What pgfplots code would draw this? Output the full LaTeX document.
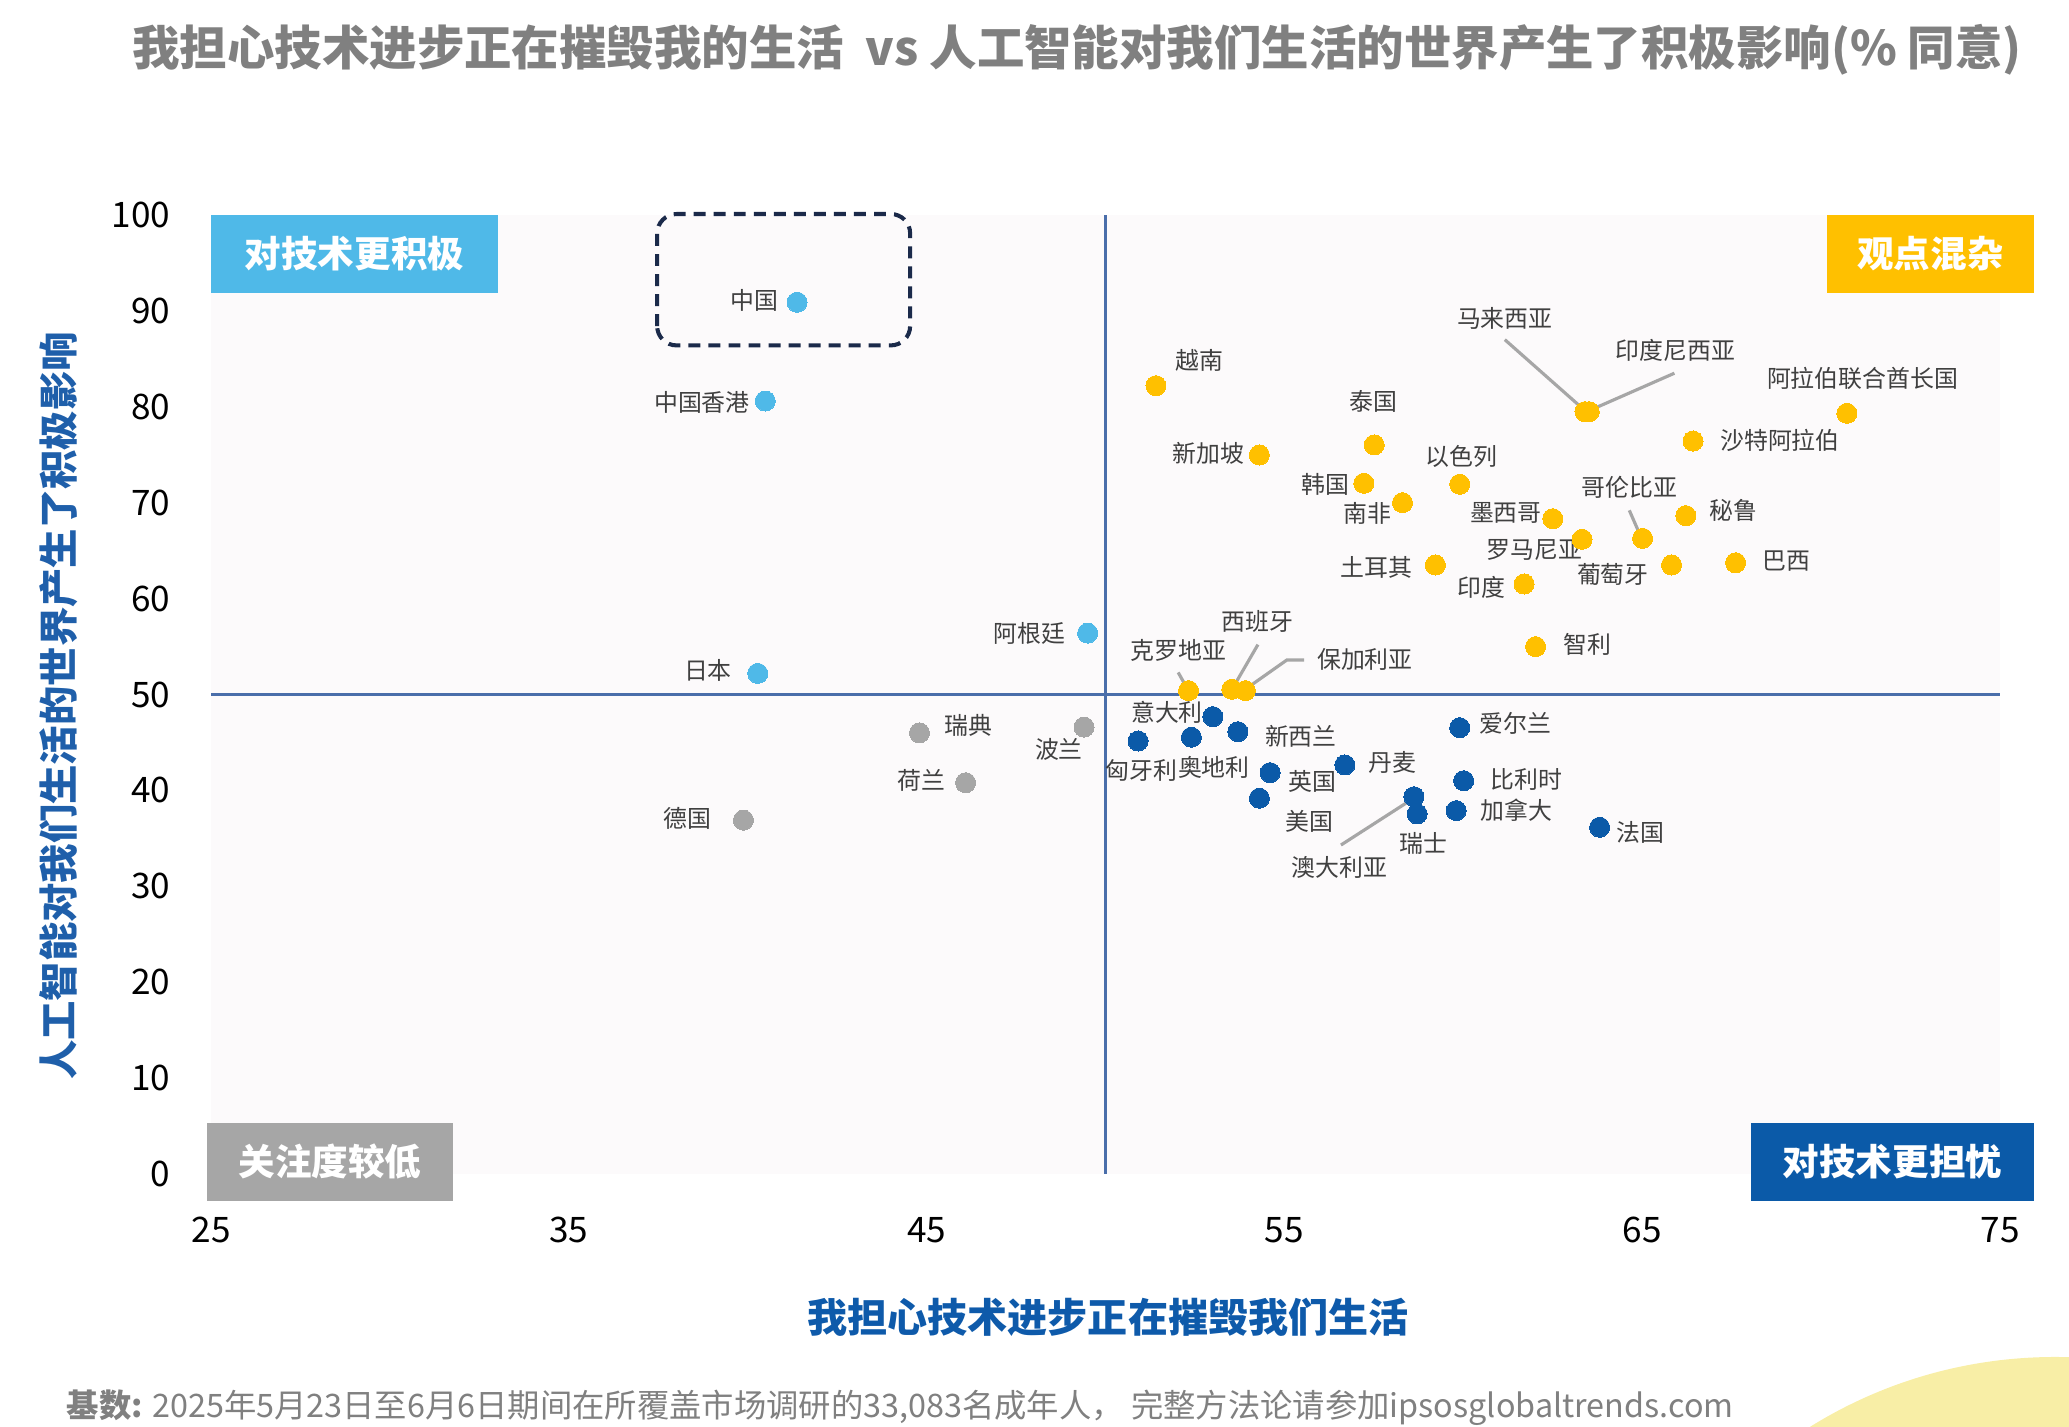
\documentclass[border=0pt]{standalone}
\usepackage{fontspec}
\setmainfont{Noto Sans CJK SC}
\usepackage{pgfplots}
\pgfplotsset{compat=1.18}
\definecolor{lblue}{HTML}{4FB9E8}
\definecolor{dblue}{HTML}{0B5AA8}
\definecolor{yel}{HTML}{FFC000}
\definecolor{gry}{HTML}{A6A6A6}
\definecolor{bgc}{HTML}{FCFAFB}
\definecolor{midc}{HTML}{4A6EAA}
\definecolor{navy}{HTML}{1B2A4A}
\definecolor{txt}{HTML}{404040}
\definecolor{ttl}{HTML}{808080}
\definecolor{circ}{HTML}{F8EEA6}
\definecolor{leader}{HTML}{A6A6A6}
\definecolor{xlab}{HTML}{0E5AAA}
\definecolor{ylab}{HTML}{1F5FAA}
\tikzset{lbl/.style={font=\fontsize{6.8pt}{8pt}\selectfont, text=txt, inner sep=0pt, anchor=center},
  ld/.style={draw=leader, line width=0.9pt},
  qbox/.style={font=\fontsize{10.4pt}{12pt}\selectfont\bfseries, text=white}}
\pgfplotsset{dots/.style={color=#1, only marks, mark=*, mark size=2.85pt, mark options={solid, draw=#1, fill=#1, line width=0pt}}}
\begin{document}
\begin{tikzpicture}[x=1mm,y=1mm]
\useasboundingbox (0,0) rectangle (206.9,142.7);
\begin{scope}
\clip (0,0) rectangle (206.9,142.7);
\fill[circ] (205.5,-39.4) circle (46.4);
\end{scope}
\begin{axis}[at={(21.1mm,25.3mm)}, anchor=south west, scale only axis,
  width=178.9mm, height=95.9mm,
  xmin=25, xmax=75, ymin=0, ymax=100,
  xtick={25,35,45,55,65,75}, ytick={0,10,...,100},
  axis line style={draw=none}, major tick length=0pt,
  tick label style={font=\fontsize{10pt}{12pt}\selectfont, text=black},
  /pgf/number format/assume math mode=true,
  xticklabel style={anchor=center, inner sep=0pt, yshift=-5.6mm},
  yticklabel style={anchor=east, inner sep=0pt, xshift=-4mm},
  axis background/.style={fill=bgc},
  clip=false]
\addplot[midc, line width=0.7pt] coordinates {(50,0) (50,100)};
\addplot[midc, line width=0.7pt] coordinates {(25,50) (75,50)};
% light blue
\addplot[dots=lblue] coordinates {
(41.38,90.9) (40.49,80.6) (40.28,52.2) (49.50,56.4)};
% gray
\addplot[dots=gry] coordinates {
(44.80,46.0) (49.40,46.6) (46.09,40.8) (39.88,36.9)};
% yellow
\addplot[dots=yel] coordinates {
(51.41,82.2) (54.30,74.97) (57.51,76.02) (57.22,72.02) (59.90,71.92) (58.30,70.0)
(63.40,79.49) (63.52,79.49) (70.72,79.32) (66.42,76.43) (62.50,68.33) (66.22,68.65)
(63.32,66.18) (65.01,66.28) (65.82,63.50) (67.61,63.74) (59.22,63.50) (61.70,61.52)
(62.02,54.99) (52.32,50.40) (53.53,50.54) (53.91,50.40)};
% dark blue
\addplot[dots=dblue] coordinates {
(53.00,47.69) (50.91,45.15) (52.40,45.54) (53.70,46.12) (54.60,41.85) (54.30,39.18)
(56.69,42.65) (59.90,46.54) (60.01,41.01) (58.62,39.34) (58.71,37.54) (59.80,37.89)
(63.81,36.15)};
% dashed box
\draw[navy, line width=1.15pt, dash pattern=on 3.4pt off 2.3pt, rounded corners=5.5pt]
  (axis cs:37.47,86.4) rectangle (axis cs:44.54,100.1);
% leaders
\draw[ld] (axis cs:61.16,87.0) -- (axis cs:63.40,79.6);
\draw[ld] (axis cs:65.90,83.5) -- (axis cs:63.52,79.6);
\draw[ld] (axis cs:64.64,69.2) -- (axis cs:64.98,66.3);
\draw[ld] (axis cs:52.03,52.3) -- (axis cs:52.32,50.4);
\draw[ld] (axis cs:54.26,55.2) -- (axis cs:53.53,50.5);
\draw[ld] (axis cs:55.55,53.6) -- (axis cs:55.07,53.6) -- (axis cs:53.93,50.6);
\draw[ld] (axis cs:56.58,34.3) -- (axis cs:58.62,39.2);
% labels
\node[lbl] at (axis cs:40.20,91.1) {中国};
\node[lbl] at (axis cs:38.72,80.5) {中国香港};
\node[lbl] at (axis cs:38.89,52.5) {日本};
\node[lbl] at (axis cs:47.88,56.4) {阿根廷};
\node[lbl] at (axis cs:46.18,46.8) {瑞典};
\node[lbl] at (axis cs:48.70,44.3) {波兰};
\node[lbl] at (axis cs:44.86,41.0) {荷兰};
\node[lbl] at (axis cs:38.31,37.1) {德国};
\node[lbl] at (axis cs:52.63,84.8) {越南};
\node[lbl] at (axis cs:52.88,75.1) {新加坡};
\node[lbl] at (axis cs:57.50,80.6) {泰国};
\node[lbl] at (axis cs:56.15,71.9) {韩国};
\node[lbl] at (axis cs:57.32,68.9) {南非};
\node[lbl] at (axis cs:59.95,74.8) {以色列};
\node[lbl] at (axis cs:61.16,89.2) {马来西亚};
\node[lbl] at (axis cs:65.93,85.9) {印度尼西亚};
\node[lbl] at (axis cs:71.16,83.0) {阿拉伯联合酋长国};
\node[lbl] at (axis cs:68.85,76.5) {沙特阿拉伯};
\node[lbl] at (axis cs:61.19,68.9) {墨西哥};
\node[lbl] at (axis cs:64.64,71.6) {哥伦比亚};
\node[lbl] at (axis cs:67.54,69.2) {秘鲁};
\node[lbl] at (axis cs:61.99,65.1) {罗马尼亚};
\node[lbl] at (axis cs:64.18,62.5) {葡萄牙};
\node[lbl] at (axis cs:69.04,63.9) {巴西};
\node[lbl] at (axis cs:57.57,63.3) {土耳其};
\node[lbl] at (axis cs:60.50,61.2) {印度};
\node[lbl] at (axis cs:63.46,55.2) {智利};
\node[lbl] at (axis cs:52.04,54.6) {克罗地亚};
\node[lbl] at (axis cs:54.25,57.6) {西班牙};
\node[lbl] at (axis cs:57.25,53.6) {保加利亚};
\node[lbl] at (axis cs:51.72,48.1) {意大利};
\node[lbl] at (axis cs:51.01,42.1) {匈牙利};
\node[lbl] at (axis cs:53.03,42.4) {奥地利};
\node[lbl] at (axis cs:55.46,45.6) {新西兰};
\node[lbl] at (axis cs:55.78,40.9) {英国};
\node[lbl] at (axis cs:55.70,36.8) {美国};
\node[lbl] at (axis cs:58.03,42.9) {丹麦};
\node[lbl] at (axis cs:61.46,47.0) {爱尔兰};
\node[lbl] at (axis cs:61.77,41.1) {比利时};
\node[lbl] at (axis cs:61.49,37.9) {加拿大};
\node[lbl] at (axis cs:58.89,34.5) {瑞士};
\node[lbl] at (axis cs:56.54,32.0) {澳大利亚};
\node[lbl] at (axis cs:64.94,35.6) {法国};
\end{axis}
% quadrant boxes
\fill[lblue] (21.1,113.4) rectangle (49.8,121.2);
\node[qbox] at (35.45,117.3) {对技术更积极};
\fill[yel] (182.7,113.4) rectangle (203.4,121.2);
\node[qbox] at (193.05,117.3) {观点混杂};
\fill[gry] (20.7,22.6) rectangle (45.3,30.4);
\node[qbox] at (33.0,26.5) {关注度较低};
\fill[dblue] (175.1,22.6) rectangle (203.4,30.4);
\node[qbox] at (189.25,26.5) {对技术更担忧};
% title
\node[font=\fontsize{13.5pt}{16pt}\selectfont\bfseries, text=ttl] at (107.7,137.7)
  {我担心技术进步正在摧毁我的生活~ vs 人工智能对我们生活的世界产生了积极影响(\% 同意)};
% axis labels
\node[font=\fontsize{11.4pt}{14pt}\selectfont\bfseries, text=xlab] at (110.8,11.0) {我担心技术进步正在摧毁我们生活};
\node[font=\fontsize{11.2pt}{14pt}\selectfont\bfseries, text=ylab, rotate=90] at (5.9,72.1) {人工智能对我们生活的世界产生了积极影响};
% footnote
\node[anchor=west, inner sep=0pt, font=\fontsize{9.2pt}{11pt}\selectfont, text=ttl] at (6.6,1.9)
  {\textbf{基数:} 2025年5月23日至6月6日期间在所覆盖市场调研的33,083名成年人， 完整方法论请参加ipsosglobaltrends.com};
\end{tikzpicture}
\end{document}
